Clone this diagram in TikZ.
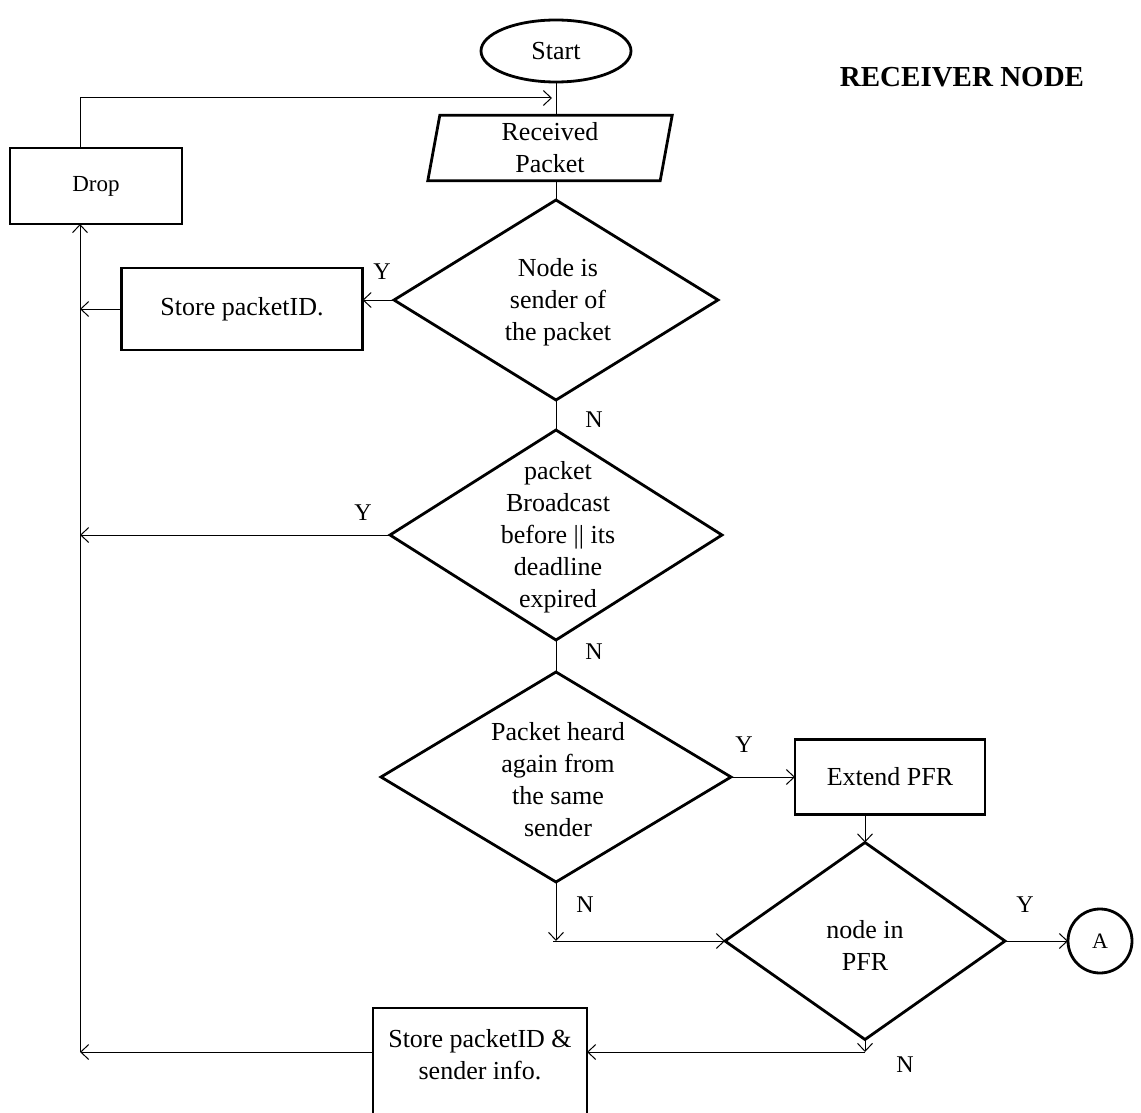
\documentclass[tikz,border=0pt]{standalone}
\usepackage{fontspec}
\setmainfont{Liberation Serif}
\usetikzlibrary{shapes.geometric,arrows.meta}
\begin{document}
\begin{tikzpicture}[x=1pt,y=-1pt,
  txt/.style={font=\fontsize{26}{32}\selectfont, align=center, inner sep=0},
  lbl/.style={font=\fontsize{24}{28}\selectfont, inner sep=0},
  boxst/.style={draw, line width=2.8pt, inner sep=0, outer sep=0, align=center, font=\fontsize{26}{32}\selectfont},
  dia/.style={draw, diamond, line width=2.8pt, inner sep=0, outer sep=0},
  ln/.style={line width=1pt},
  arr/.style={line width=1pt, -{Straight Barb[length=8pt,width=15pt,line width=1pt]}}
]
\useasboundingbox (0,0) rectangle (1141,1113);
% nodes
\node[draw, ellipse, line width=2.8pt, minimum width=150, minimum height=62, inner sep=0, outer sep=0, font=\fontsize{26}{32}\selectfont] (start) at (556,51) {Start};
\node[txt, minimum width=232, minimum height=65] (rp) at (550,148) {Received\\Packet};
\draw[line width=2.8pt] ([xshift=6pt]rp.north west) -- ([xshift=6pt]rp.north east) -- ([xshift=-6pt]rp.south east) -- ([xshift=-6pt]rp.south west) -- cycle;
\node[boxst, minimum width=172, minimum height=76, font=\fontsize{23}{28}\selectfont] (drop) at (96,186) {Drop};
\node[dia, minimum width=324, minimum height=200] (d1) at (556,300) {};
\node[txt] (d1t) at (558,302) {Node is\\sender of\\the packet};
\node[boxst, minimum width=241, minimum height=82] (store1) at (242,309) {Store packetID.};
\node[dia, minimum width=332, minimum height=210] (d2) at (556,535) {};
\node[txt] (d2t) at (558,537) {packet\\Broadcast\\before || its\\deadline\\expired};
\node[dia, minimum width=350, minimum height=210] (d3) at (556,777) {};
\node[txt] (d3t) at (558,780) {Packet heard\\again from\\the same\\sender};
\node[boxst, minimum width=190, minimum height=75] (ext) at (890,777) {Extend PFR};
\node[dia, minimum width=280, minimum height=197] (d4) at (865,941) {};
\node[txt] (d4t) at (865,945) {node in\\PFR};
\node[draw, circle, line width=2.8pt, minimum size=64, inner sep=0, outer sep=0, font=\fontsize{22}{26}\selectfont] (A) at (1100,941) {A};
\node[draw, line width=2.8pt, minimum width=214, minimum height=112, inner sep=0, outer sep=0] (store2) at (480,1064) {};
\node[txt] (store2t) at (480,1055) {Store packetID \&\\sender info.};
\node[font=\bfseries\fontsize{29}{34}\selectfont, inner sep=0] (title) at (962,77) {RECEIVER NODE};
% labels
\node[lbl] (y1) at (382,272) {Y};
\node[lbl] (y2) at (363,513) {Y};
\node[lbl] (y3) at (744,745) {Y};
\node[lbl] (y4) at (1025,905) {Y};
\node[lbl] (n1) at (594,420) {N};
\node[lbl] (n2) at (594,652) {N};
\node[lbl] (n3) at (585,905) {N};
\node[lbl] (n4) at (905,1065) {N};
% helper coordinates
\coordinate (sp) at (80,1052);
\coordinate (tp) at (552,98);
\coordinate (m) at (d3.south |- d4.west);
\coordinate (b) at (865,1052);
% connectors
\draw[ln] (start.south) -- (start.south |- rp.north);
\draw[ln] (start.south |- rp.south) -- (d1.north);
\draw[arr] (d1.west) -- (store1.east |- d1.west);
\draw[arr] (store1.west) -- (store1.west -| sp);
\draw[ln] (d1.south) -- (d2.north);
\draw[arr] (d2.west) -- (d2.west -| sp);
\draw[ln] (d2.south) -- (d3.north);
\draw[arr] (d3.east) -- (ext.west |- d3.east);
\draw[arr] (ext.south -| d4.north) -- (d4.north);
\draw[arr] (d3.south) -- (m);
\draw[arr] ([xshift=-3pt]m) -- (d4.west);
\draw[arr] (d4.east) -- (A.west);
\draw[arr] (d4.south) -- (b);
\draw[arr] (b) -- (b -| store2.east);
\draw[arr] (store2.west |- sp) -- (sp);
\draw[arr] (sp) -- (sp |- drop.south);
\draw[arr] (sp |- drop.north) -- (sp |- tp) -- (tp);
\end{tikzpicture}
\end{document}
